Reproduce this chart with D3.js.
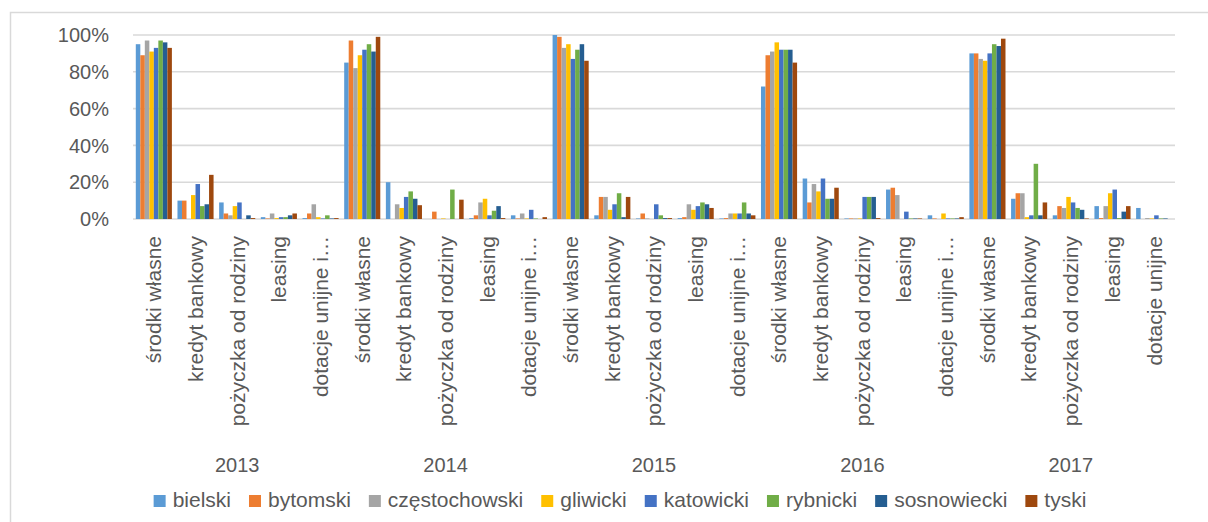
<!DOCTYPE html>
<html>
<head>
<meta charset="utf-8">
<title>Źródła finansowania</title>
<script src="https://d3js.org/d3.v7.min.js"></script>
<style>
  body { margin: 0; background: #ffffff; }
  text { font-family: "Liberation Sans", Arial, sans-serif; fill: #595959; }
</style>
</head>
<body>
<div id="chart"></div>
<script>
// years (outer axis level) and categories (inner level)
const years = ["2013", "2014", "2015", "2016", "2017"];
const categories2013_2016 = ["środki własne", "kredyt bankowy", "pożyczka od rodziny", "leasing", "dotacje unijne i…"];
const categories2017 = ["środki własne", "kredyt bankowy", "pożyczka od rodziny", "leasing", "dotacje unijne"];

// series: districts
const seriesNames = ["bielski", "bytomski", "częstochowski", "gliwicki", "katowicki", "rybnicki", "sosnowiecki", "tyski"];
const seriesColors = ["#5B9BD5", "#ED7D31", "#A5A5A5", "#FFC000", "#4472C4", "#70AD47", "#255E91", "#9E480E"];

// percent values, 25 per series (5 categories x 5 years)
const bielski       = [95, 10, 9, 1, 0.5,   85, 20, 0, 0.5, 2,      100, 2, 0.3, 0.5, 0.3,  72, 22, 0.3, 16, 2,     90, 11, 2, 7, 6];
const bytomski      = [89, 10, 3, 0.3, 3,   97, 0, 4, 2, 0.3,       99, 12, 3, 1, 0.5,      89, 9, 0.3, 17, 0.3,    90, 14, 7, 0.5, 0];
const czestochowski = [97, 0, 2, 3, 8,      82, 8, 0, 9, 3,         93, 12, 0.3, 8, 3,      91, 19, 0.3, 13, 0,     87, 14, 6, 7, 0.5];
const gliwicki      = [91, 13, 7, 0.5, 1,   89, 6, 0.3, 11, 0.3,    95, 5, 0, 5, 3,         96, 15, 0.3, 0, 3,      86, 1, 12, 14, 0.3];
const katowicki     = [93, 19, 9, 1, 0.3,   92, 12, 0, 2, 5,        87, 8, 8, 7, 3,         92, 22, 12, 4, 0.3,     90, 2, 9, 16, 2];
const rybnicki      = [97, 7, 0, 1, 2,      95, 15, 16, 4.5, 0.3,   92, 14, 2, 9, 9,        92, 11, 12, 0.3, 0.3,   95, 30, 6, 0.5, 0.3];
const sosnowiecki   = [96, 8, 2, 2, 0.3,    91, 11, 0, 7, 0,        95, 1, 0.5, 8, 3,       92, 11, 12, 0.3, 0.3,   94, 2, 5, 4, 0.3];
const tyski         = [93, 24, 0.5, 3, 0.5, 99, 7.5, 10.5, 0.5, 1,  86, 12, 0.5, 6, 2,      85, 17, 0.5, 0.3, 1,    98, 9, 0.3, 7, 0];

const yTicks = [0, 20, 40, 60, 80, 100];

const seriesValues = [bielski, bytomski, czestochowski, gliwicki, katowicki, rybnicki, sosnowiecki, tyski];

// flat list of category slots: one per (year, category)
const slots = [];
years.forEach((yr, yi) => {
  const cats = yr === "2017" ? categories2017 : categories2013_2016;
  cats.forEach((c, ci) => slots.push({ key: yr + "|" + ci, year: yr, label: c, idx: yi * 5 + ci }));
});

const W = 1208, H = 522;
const plot = { left: 133, right: 1175, top: 35, bottom: 219 };

const svg = d3.select("#chart").append("svg")
  .attr("width", W)
  .attr("height", H);

// chart border
svg.append("rect")
  .attr("x", 10.5).attr("y", 12.5)
  .attr("width", 1220).attr("height", 540)
  .attr("fill", "none")
  .attr("stroke", "#d9d9d9")
  .attr("stroke-width", 1.5);

const y = d3.scaleLinear().domain([0, 100]).range([plot.bottom, plot.top]);

const x0 = d3.scaleBand()
  .domain(slots.map(d => d.key))
  .range([plot.left, plot.right])
  .paddingInner(0.134)
  .paddingOuter(0.067);

const x1 = d3.scaleBand()
  .domain(seriesNames)
  .range([0, x0.bandwidth()])
  .padding(0);

const xYear = d3.scaleBand()
  .domain(years)
  .range([plot.left, plot.right]);

// gridlines
svg.append("g")
  .selectAll("line")
  .data(yTicks)
  .join("line")
  .attr("x1", plot.left).attr("x2", plot.right)
  .attr("y1", d => y(d)).attr("y2", d => y(d))
  .attr("stroke", "#d9d9d9")
  .attr("stroke-width", 1.6);

// y labels
svg.append("g")
  .selectAll("text")
  .data(yTicks)
  .join("text")
  .attr("x", 109)
  .attr("y", d => y(d))
  .attr("dy", "0.36em")
  .attr("text-anchor", "end")
  .style("font-size", "20px")
  .text(d => d + "%");

// bars
const groups = svg.append("g")
  .selectAll("g")
  .data(slots)
  .join("g")
  .attr("transform", d => `translate(${x0(d.key)},0)`);

groups.selectAll("rect")
  .data(d => seriesNames.map((s, si) => ({ name: s, color: seriesColors[si], value: seriesValues[si][d.idx] })))
  .join("rect")
  .attr("x", d => x1(d.name))
  .attr("width", x1.bandwidth())
  .attr("y", d => y(d.value))
  .attr("height", d => y(0) - y(d.value))
  .attr("fill", d => d.color);

// category labels (rotated)
svg.append("g")
  .selectAll("text")
  .data(slots)
  .join("text")
  .attr("transform", d => `translate(${x0(d.key) + x0.bandwidth() / 2},236) rotate(-90)`)
  .attr("dy", "0.35em")
  .attr("text-anchor", "end")
  .style("font-size", "21px")
  .text(d => d.label);

// year labels
svg.append("g")
  .selectAll("text")
  .data(years)
  .join("text")
  .attr("x", d => xYear(d) + xYear.bandwidth() / 2)
  .attr("y", 472)
  .attr("text-anchor", "middle")
  .style("font-size", "20px")
  .text(d => d);

// legend
const legend = svg.append("g");
const items = legend.selectAll("g")
  .data(seriesNames)
  .join("g");
items.append("rect")
  .attr("width", 12).attr("height", 12)
  .attr("y", 495)
  .attr("fill", (d, i) => seriesColors[i]);
items.append("text")
  .attr("x", 19)
  .attr("y", 507)
  .style("font-size", "21px")
  .text(d => d);

let cx = 0;
const gap = 18;
items.each(function () {
  const g = d3.select(this);
  g.attr("transform", `translate(${cx},0)`);
  cx += 19 + g.select("text").node().getComputedTextLength() + gap;
});
const total = cx - gap;
legend.attr("transform", `translate(${620 - total / 2},0)`);
</script>
</body>
</html>
